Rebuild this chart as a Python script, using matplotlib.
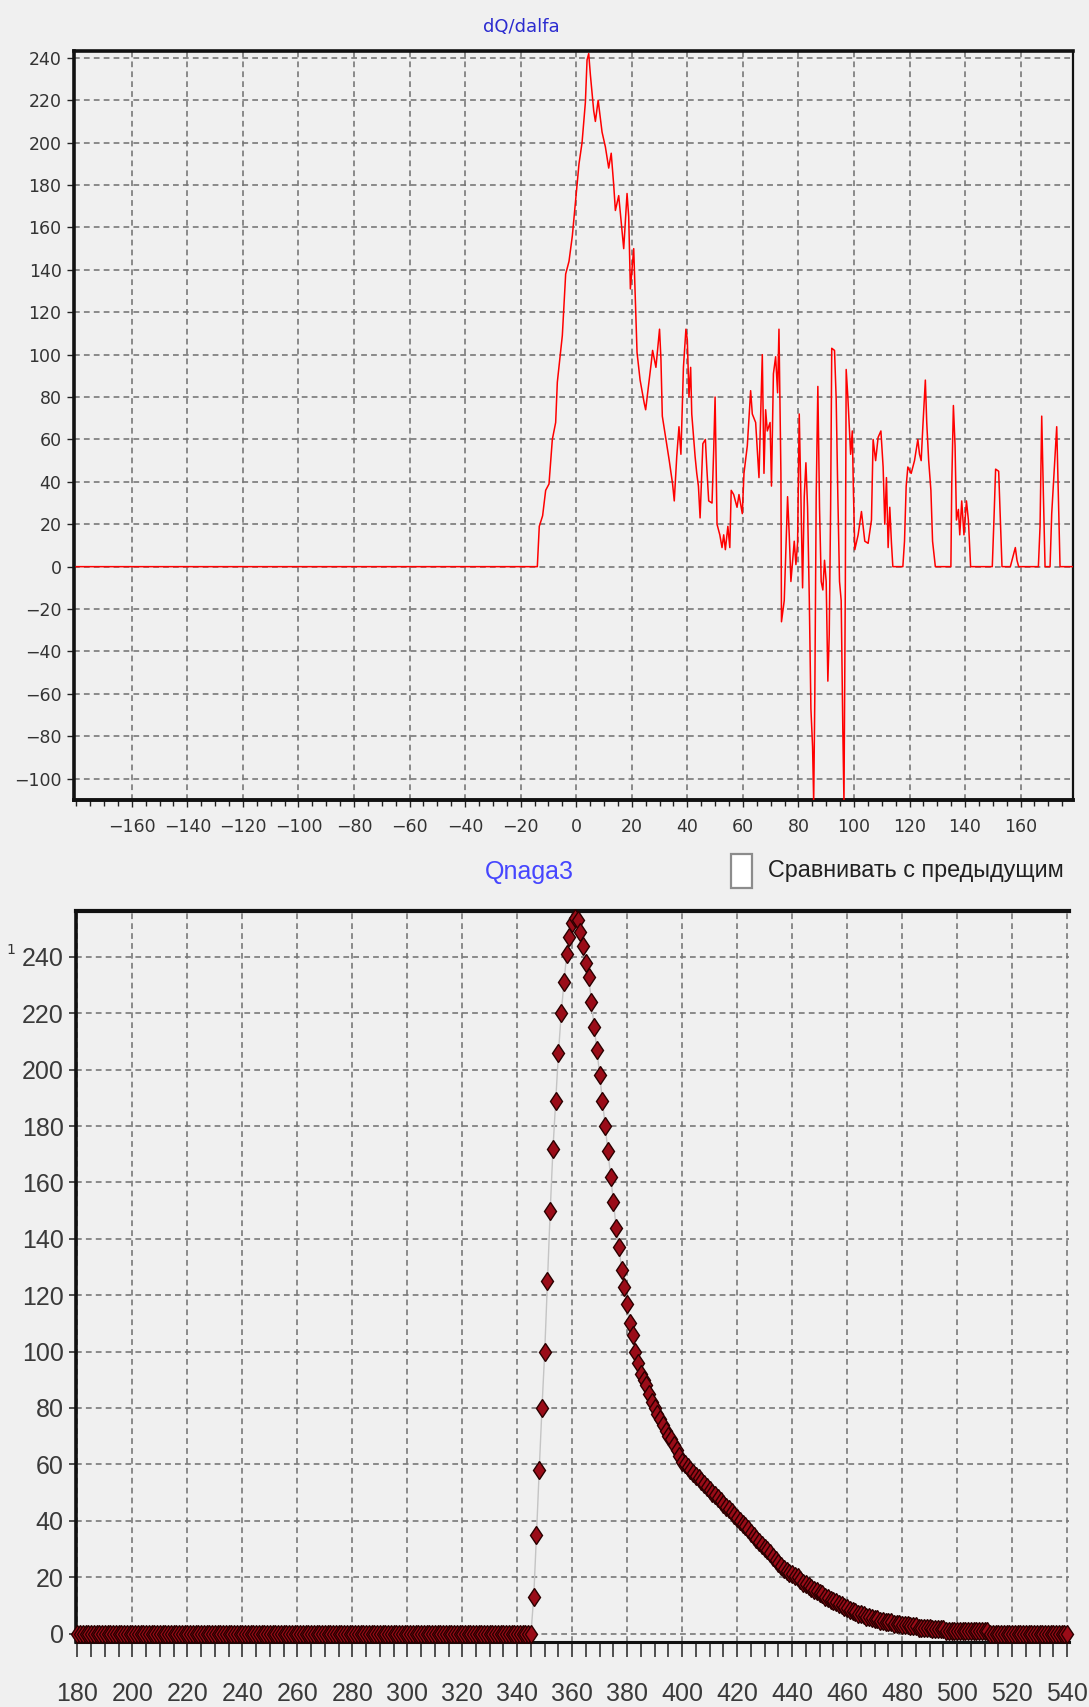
"""
Two stacked diagnostic plots: dQ/dalfa (heat release rate) and Qnaga3 (cumulative).
Values read off the reference screenshot.
"""

import numpy as np
import matplotlib
matplotlib.use('Agg')
import matplotlib.pyplot as plt
from matplotlib.patches import Rectangle
from matplotlib.ticker import MultipleLocator


# ─────────────────────────────────────────────────────────
# DATA — top chart: dQ/dalfa vs crank angle
# ─────────────────────────────────────────────────────────
alfa_top = [-180, -14, -13.3, -12.1, -11, -9.8, -8.6, -7.4, -6.8, -5.6,
            -5, -3.8, -2.6, -1.4, -0.2, 1, 2.1, 3.3, 3.9, 4.5,
            5.1, 6.3, 6.9, 7.9, 9.3, 10.5, 11.7, 12.6, 13.5, 14.1,
            15.3, 17.1, 18.3, 18.9, 19.5, 20.7, 21.9, 23, 24.5, 25,
            27, 27.5, 28.7, 30, 30.5, 31, 32.3, 33.5, 34.7, 35.3,
            36.2, 37, 37.7, 38.6, 39.5, 40, 40.6, 41.2, 41.6, 42.8,
            43.4, 44, 44.6, 45.6, 46.5, 47, 47.7, 48.9, 49.5, 50,
            50.7, 51.7, 52.5, 53.1, 53.7, 54.6, 55.3, 55.8, 56.7, 57.9,
            58.6, 59.8, 60.4, 61.6, 62.8, 63.4, 64.6, 65.2, 65.8, 67,
            67.6, 68.2, 68.8, 69.8, 70.3, 71, 71.8, 72.5, 73, 73.7,
            73.9, 74.9, 76.1, 76.7, 77.3, 78.5, 79.1, 79.7, 80.3, 80.9,
            81.5, 82.1, 82.7, 83.3, 83.9, 84.5, 85.1, 85.5, 85.9, 86.4,
            87, 87.6, 88.2, 88.8, 89.4, 90, 90.6, 91.1, 91.6, 92,
            93, 93.6, 94.2, 94.8, 95.4, 96, 96.4, 96.9, 97.2, 97.8,
            98.8, 99.4, 99.8, 100.3, 101.5, 102.7, 103.9, 105.1, 106.3, 106.9,
            107.8, 108.7, 109.7, 110.5, 111.1, 111.7, 112.3, 112.9, 113.5, 114,
            117.6, 118.2, 118.8, 119.4, 120.6, 121.8, 123, 123.6, 124.2, 124.8,
            125.7, 126.2, 126.9, 127.7, 128.3, 129.3, 134.9, 135.2, 135.8, 136.4,
            136.9, 137.6, 138.1, 138.8, 139.6, 140.5, 141.2, 142, 149.8, 150.4,
            151, 152.1, 152.7, 153.3, 156.3, 157.5, 158.1, 158.7, 159.3, 166.4,
            167, 167.6, 168.2, 168.8, 170.6, 171.2, 172.4, 173, 173.6, 174.2,
            179]

dq_top = [0, 0, 19, 24, 36, 39, 60, 68, 87, 102,
          109, 138, 144, 156, 173, 190, 200, 219, 239, 242,
          232, 215, 210, 220, 205, 198, 188, 195, 180, 168,
          175, 150, 176, 165, 131, 150, 101, 88, 77, 74,
          96, 102, 94, 112, 98, 71, 60, 50, 39, 31,
          52, 66, 53, 94, 112, 107, 80, 94, 72, 52,
          44, 38, 23, 58, 60, 47, 31, 30, 55, 80,
          20, 15, 9, 15, 8, 19, 9, 36, 34, 28,
          34, 25, 44, 57, 83, 72, 68, 55, 42, 100,
          44, 74, 64, 68, 38, 91, 99, 82, 112, 44,
          -26, -16, 33, 15, -7, 12, 1, 11, 72, 33,
          -10, 33, 49, 28, -14, -67, -85, -111, -62, 33,
          85, 28, -7, -11, 3, -7, -54, -32, 28, 103,
          102, 79, 33, -7, -16, -78, -111, -7, 93, 80,
          53, 64, 36, 8, 15, 26, 12, 11, 22, 60,
          50, 61, 64, 47, 20, 42, 9, 28, 11, 0,
          0, 12, 38, 47, 44, 50, 60, 53, 50, 66,
          88, 68, 50, 36, 12, 0, 0, 38, 76, 57,
          22, 27, 15, 31, 15, 31, 22, 0, 0, 22,
          46, 45, 22, 0, 0, 6, 9, 3, 0, 0,
          19, 71, 34, 0, 0, 25, 52, 66, 33, 0,
          0]

top_xticks = list(range(-160, 161, 20))
top_yticks = list(range(-100, 241, 20))

# ─────────────────────────────────────────────────────────
# DATA — bottom chart: Qnaga3, one point per degree 180..540
# ─────────────────────────────────────────────────────────
angle_bot = np.arange(180, 541)
q_before = [0] * 166          # 180 .. 345
q_rise = [13, 35, 58, 80, 100, 125, 150, 172, 189, 206,      # 346 ..
          220, 231, 241, 247, 252, 254, 253, 249, 244, 238,
          233, 224, 215, 207, 198, 189, 180, 171, 162, 153,
          144, 137, 129, 123, 117, 110, 106, 100, 96]       # .. 384
q_tail = [92, 90, 88, 85, 82, 80, 78, 76, 74, 72,           # 385 ..
          70, 69, 67, 65, 63, 61, 60, 59, 58, 57,
          56, 55, 54, 53, 52, 51, 50, 49, 48, 47,
          46, 45, 44, 43, 42, 41, 40, 39, 38, 37,
          35.5, 34.5, 33.5, 32.5, 31.5, 30.5, 29.5, 28.5, 27, 26,
          25, 24, 23, 22, 21.5, 21, 20.5, 20, 19, 18,
          17.5, 17, 16, 15.5, 15, 14.5, 14, 13, 12.5, 12,
          11.5, 11, 10.5, 10, 9.5, 9, 8.5, 8, 7.5, 7,
          7, 6.5, 6, 6, 5.5, 5, 5, 4.5, 4.5, 4,
          4, 4, 3.5, 3.5, 3.5, 3, 3, 3, 2.5, 2.5,
          2.5, 2, 2, 2, 2, 2, 1.5, 1.5, 1.5, 1.5,
          1.5, 1, 1, 1, 1, 1, 1, 1, 1, 1,
          1, 1, 1, 1, 1, 1, 1]                               # .. 511
q_after = [0] * 29            # 512 .. 540
q_bot = q_before + q_rise + q_tail + q_after

bot_xticks = list(range(180, 541, 20))
bot_yticks = list(range(0, 241, 20))


# ─────────────────────────────────────────────────────────
# STYLE
# ─────────────────────────────────────────────────────────
BG = '#f0f0f0'
GRID = dict(color='#737373', linestyle=(0, (3.6, 2.6)), linewidth=1.15)
ARIAL = 'Liberation Sans'

fig = plt.figure(figsize=(10.89, 17.07), dpi=100, facecolor=BG)

# ── Top chart ─────────────────────────────────────────────
ax1 = fig.add_axes([0.0680, 0.5313, 0.9174, 0.4388], facecolor=BG)
ax1.plot(alfa_top, dq_top, color='#ff0000', linewidth=1.1, zorder=3)
ax1.set_xlim(-180.8, 178.9)
ax1.set_ylim(-110.1, 243.2)
ax1.set_xticks(top_xticks)
ax1.set_yticks(top_yticks)
ax1.xaxis.set_minor_locator(MultipleLocator(5))
ax1.grid(True, which='major', **GRID)
ax1.tick_params(axis='both', which='major', direction='out', length=5,
                width=1, colors='#222222', labelsize=12.5, pad=4)
ax1.tick_params(axis='x', which='major', pad=8)
ax1.tick_params(axis='x', which='minor', direction='out', length=4,
                width=1, colors='#222222')
for lab in ax1.get_xticklabels() + ax1.get_yticklabels():
    lab.set_family('DejaVu Sans')
    lab.set_color('#333333')
for side, lw in [('top', 2.6), ('left', 2.6), ('bottom', 2.8), ('right', 1.6)]:
    ax1.spines[side].set_linewidth(lw)
    ax1.spines[side].set_color('#111111')

fig.text(521 / 1089, 1 - 27 / 1707, 'dQ/dalfa', ha='center', va='center',
         fontsize=13, color='#2b2bd0', family='DejaVu Sans')

# ── Bottom chart ──────────────────────────────────────────
ax2 = fig.add_axes([0.0698, 0.0381, 0.9118, 0.4282], facecolor=BG)
ax2.plot(angle_bot, q_bot, color='#c4c4c4', linewidth=1.0, zorder=3)
ax2.plot(angle_bot, q_bot, linestyle='none', marker='d', markersize=9.5,
         markerfacecolor='#9a0c18', markeredgecolor='#2a0000',
         markeredgewidth=1.0, zorder=4, clip_on=False)
ax2.set_xlim(179.5, 540.7)
ax2.set_ylim(-3.0, 256.3)
ax2.set_xticks(bot_xticks)
ax2.set_yticks(bot_yticks)
ax2.xaxis.set_minor_locator(MultipleLocator(5))
ax2.grid(True, which='major', **GRID)
ax2.tick_params(axis='x', which='both', direction='out', length=11,
                width=1.2, colors='#333333', labelsize=18, pad=18)
ax2.tick_params(axis='y', which='major', direction='out', length=5,
                width=1.2, colors='#333333', labelsize=18, pad=4)
for lab in ax2.get_xticklabels() + ax2.get_yticklabels():
    lab.set_family(ARIAL)
    lab.set_color('#3a3a3a')
for side, lw in [('top', 3.0), ('left', 2.6), ('bottom', 2.2)]:
    ax2.spines[side].set_linewidth(lw)
    ax2.spines[side].set_color('#111111')
ax2.spines['right'].set_visible(False)

fig.text(529 / 1089, 1 - 872 / 1707, 'Qnaga3', ha='center', va='center',
         fontsize=18, color='#4646ff', family=ARIAL)

# checkbox + caption
fig.patches.append(Rectangle((731 / 1089, 1 - 888 / 1707), 21 / 1089, 34 / 1707,
                             transform=fig.transFigure, facecolor='white',
                             edgecolor='#8c8c8c', linewidth=1.6))
fig.text(768 / 1089, 1 - 871 / 1707, 'Сравнивать с предыдущим', ha='left',
         va='center', fontsize=16.8, color='#202020', family=ARIAL)

# stray label left of the lower chart
fig.text(11 / 1089, 1 - 950 / 1707, '1', ha='center', va='center',
         fontsize=10, color='#333333', family='DejaVu Sans')

plt.savefig('out.png', dpi=100, facecolor=BG)
